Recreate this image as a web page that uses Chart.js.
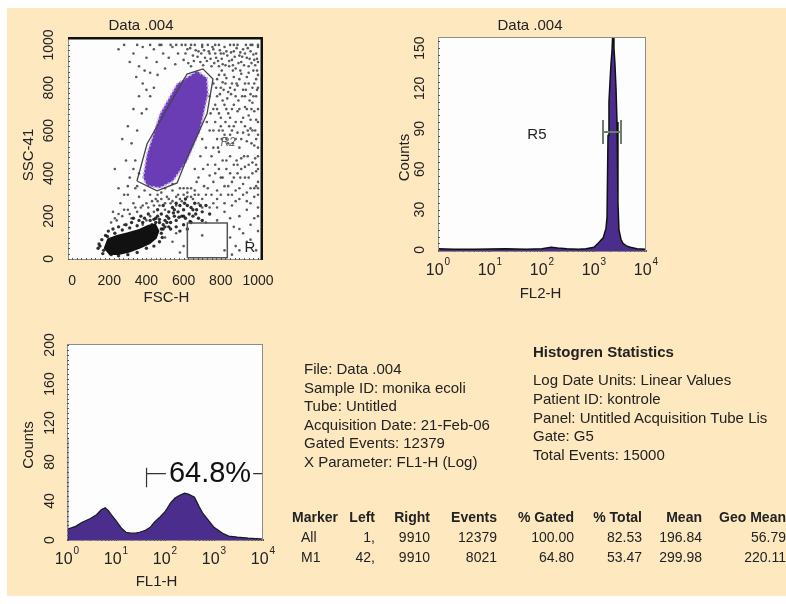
<!DOCTYPE html>
<html>
<head>
<meta charset="utf-8">
<script src="https://cdn.jsdelivr.net/npm/chart.js@4.4.1/dist/chart.umd.min.js"></script>
<style>
html,body{margin:0;padding:0;width:786px;height:604px;overflow:hidden;background:#fff;
  font-family:"Liberation Sans",Arial,sans-serif;color:#222;}
#bg{position:absolute;left:7px;top:8px;width:779px;height:588px;background:#fde8c0;}
canvas{position:absolute;left:0;top:0;}
.t{position:absolute;white-space:nowrap;font-size:15px;}
.c{position:absolute;white-space:nowrap;font-size:14px;line-height:20px;}
</style>
</head>
<body>
<div id="bg"></div>
<canvas id="scatter" width="786" height="604"></canvas>
<canvas id="fl2" width="786" height="604"></canvas>
<canvas id="fl1" width="786" height="604"></canvas>
<div id="info1" class="t" style="left:304px;top:360px;line-height:18.5px;"></div>
<div id="info2title" class="t" style="left:533px;top:342px;line-height:19px;font-weight:bold;"></div>
<div id="info2" class="t" style="left:533px;top:371px;line-height:18.8px;"></div>
<div id="table"></div>
<script>
// ---------------- data ----------------
const scatterTicks = [0, 200, 400, 600, 800, 1000];
const fl2CountTicks = [0, 30, 60, 90, 120, 150];
const fl1CountTicks = [0, 40, 80, 120, 160, 200];
const logDecades = [1, 10, 100, 1000, 10000];
const logExponents = ['0', '1', '2', '3', '4'];

// FL1-H histogram (channel, counts)
const fl1Channel = [1,1.5,2,3,4,5,6,7,8,10,13,16,20,25,30,40,50,60,80,100,130,160,200,250,300,400,500,600,800,1000,1500,2000,3000,5000,10000];
const fl1Counts  = [11,14,18,22,26,31,33,30,26,20,12,8,7,7,8,10,13,18,24,29,38,43,46,48,47,44,34,27,19,13,7,4,3,2,1];
const fl1Spike = [[1,0],[1,105]];
const m1Marker = [[42,74],[42,54],[42,68],[9910,68]];
const m1Label = '64.8%';

// FL2-H histogram
const fl2Channel = [1,2,5,10,20,50,100,150,200,300,500,700,1000,1200,1500,1700,1780,1860,1940,2030,2120,2220,2320,2420,2530,2650,2770,2890,3020,3300,3600,4200,5000,6700,10000];
const fl2Counts  = [1,0.5,0.5,0.8,1,0.6,1,2,1.5,1,0.6,1,2,5,9,16,24,85,110,125,138,148,165,150,138,120,95,35,15,8,5,3,2,1,0.5];
const r5Marker = [[1490,96.5],[1490,78.7],[1490,87.6],[3306,87.6],[3306,96.5],[3306,78.7]];

// FSC-H / SSC-41 dot plot
const gateR2 = [[349,364],[403,537],[618,864],[704,888],[758,841],[726,678],[618,472],[565,355],[457,318],[349,364]];
const gateR  = [[620,5],[620,168],[835,168],[835,5],[620,5]];
const purpleCore = [[382,379],[403,491],[473,678],[565,818],[672,879],[726,846],[731,771],[688,598],[618,458],[543,364],[473,332],[403,341]];
const debrisBlob = [[170,50],[190,95],[240,112],[300,125],[360,140],[410,160],[450,165],[470,130],[455,95],[420,70],[370,50],[310,30],[250,18],[200,18]];
const eventsDense = [[430,160],[450,190],[470,170],[480,210],[500,180],[510,200],[520,220],[530,170],[540,240],[550,200],[560,180],[570,220],[580,250],[590,200],[600,230],[610,190],[620,250],[630,210],[640,240],[650,200],[660,260],[670,230],[680,190],[690,250],[700,220],[460,230],[490,250],[520,190],[545,215],[575,195],[605,260],[635,175],[665,210],[700,180],[720,250],[740,210],[480,140],[520,150],[560,150],[600,160],[640,170],[580,130],[620,140],
[150,60],[160,90],[170,40],[180,110],[195,130],[220,140],[250,150],[290,160],[320,170],[360,180],[390,190],[420,180],[450,170],[480,120],[470,80],[440,60],[400,50],[350,30],[300,20],[250,15],[210,20],[165,25],[490,160],[460,200],[410,210],[370,200],[330,190],
[140,50],[145,70],[190,105],[230,120],[270,135],[310,145],[350,155],[380,170],[485,100],[490,140],[500,150],[470,185],[440,185],[510,170],[530,140],[550,230],[600,200],[650,230],[560,260],[610,280]];
const eventsSparse = [[330,960],[360,900],[380,990],[400,940],[420,870],[440,980],[455,920],[470,1000],[490,960],[500,890],[520,940],[540,990],[555,910],[570,960],[590,1000],[600,930],[620,980],[640,900],[650,950],[660,1000],[680,970],[690,920],[700,990],[715,940],[730,1000],[740,960],[750,900],[760,980],[775,940],[790,1000],[800,960],[810,910],[820,990],[835,950],[850,1000],[860,930],[870,970],[880,890],[890,1000],[900,950],[910,920],[920,980],[935,1000],[940,940],[950,900],[960,970],[970,1000],[980,930],[990,960],[1000,990],
[280,1000],[250,980],[310,920],[345,850],[390,880],[460,860],[530,1000],[610,1000],[770,1000],[870,1000],[960,1000],[1000,1000],[700,1000],[640,1000],[560,1000],[480,1000],[420,1000],[350,1000],
[780,840],[800,800],[820,860],[840,780],[860,820],[880,760],[900,840],[920,790],[940,850],[960,770],[980,820],[1000,860],
[770,720],[790,680],[810,740],[830,700],[850,660],[870,720],[890,690],[910,640],[930,710],[950,670],[970,730],[990,650],[1000,700],
[760,600],[780,560],[800,620],[820,580],[840,540],[860,600],[880,560],[900,520],[920,590],[940,550],[960,610],[980,530],[1000,580],
[750,480],[770,440],[790,500],[810,460],[830,420],[850,480],[870,440],[890,400],[910,470],[930,430],[950,380],[970,450],[990,410],[1000,480],
[760,360],[780,320],[800,380],[820,340],[840,300],[860,360],[880,320],[900,280],[920,350],[940,310],[960,260],[980,330],[1000,300],
[780,240],[820,220],[860,250],[900,200],[940,230],[980,190],[1000,240],[870,150],[920,120],[960,160],[1000,130],[880,60],[940,80],[990,40],[850,190],
[1000,920],[1000,800],[1000,640],[1000,520],[1000,420],[1000,360],[1000,200],[995,880],[990,760],[985,600],[990,340],[975,880],[950,820],[930,760],[905,880],[885,820],[865,880],[845,900],[825,820],[805,880],[790,900],[965,700],[945,600],[925,480],[905,380],[885,460],[865,540],[845,620],[825,640],[805,560],[785,520],[945,480],[965,540],[985,470],
[700,560],[720,520],[740,600],[690,480],[660,420],[730,440],[760,520],[680,380],[640,330],[710,340],[740,390],[770,640],[760,700],[780,760],[740,760],[720,800],[760,820],[700,740],[745,680],[725,640],[705,420],[670,360],
[300,620],[330,700],[360,760],[380,820],[270,560],[320,540],[350,600],[400,700],[420,760],[290,460],[340,460],[310,380],[360,400],[250,330],[280,300],[230,420],[440,800],[400,790],[375,680],[330,420],[300,340],[350,340],
[240,180],[270,200],[300,230],[330,260],[360,290],[390,320],[420,300],[450,280],[480,310],[510,290],[540,320],[570,300],[600,330],[280,160],[320,190],[350,220],[380,250],[410,240],[440,220],[470,250],[500,230],[530,260],[560,250],[590,270],[620,290],[650,280],[680,300],[260,260],[300,300],[340,330],[220,220],
[500,100],[540,80],[560,120],[600,60],[580,30],[700,110],[850,100],[900,40],[960,90],[860,20],[780,180],[720,170],[900,140],[820,40],
[610,960],[625,915],[635,985],[655,925],[665,975],[675,945],[695,960],[705,905],[710,975],[725,925],[735,970],[745,935],[755,990],[765,915],[770,960],[785,925],[795,975],[805,935],[815,960],[825,905],[830,970],[845,925],[855,965],[865,905],[875,945],[885,985],[895,915],[905,965],[915,945],[925,905],[930,960],[945,985],[955,935],[965,915],[975,955],[985,905],[995,935],
[790,860],[810,825],[830,845],[850,800],[870,850],[890,810],[910,865],[930,820],[950,870],[970,800],[990,840],[775,800],[795,770],[815,790],[835,750],[855,770],[875,790],[895,740],[915,760],[935,790],[955,740],[975,760],[995,790],
[780,700],[800,660],[820,720],[840,680],[860,700],[880,640],[900,700],[920,660],[940,700],[960,650],[980,690],[790,600],[810,600],[830,560],[850,580],[870,620],[890,590],[910,560],[930,620],[950,580],[970,600],[990,560],
[770,400],[790,420],[810,380],[830,460],[850,400],[870,380],[890,440],[910,420],[930,380],[950,440],[970,400],[990,440],[780,280],[800,300],[820,260],[840,340],[860,300],[880,270],[900,330],[920,300],[940,270],[960,330],[980,290],[1000,330],
[380,160],[400,180],[420,200],[440,250],[460,270],[480,280],[500,260],[520,280],[540,270],[560,290],[580,280],[600,300],[620,310],[640,290],[660,300],[700,280],[720,300],[680,260],[700,240],[740,240],[760,260],[750,300],[730,330],[660,320],[620,330],[580,330],[540,350],[500,330],[460,300],[430,270],[400,260],[370,240],[340,240],[310,210],[280,230],[250,210],[230,190],[210,170]];

// text blocks
const infoLines = ['File: Data .004','Sample ID: monika ecoli','Tube: Untitled','Acquisition Date: 21-Feb-06','Gated Events: 12379','X Parameter: FL1-H (Log)'];
const statsTitle = 'Histogren Statistics';
const statsLines = ['Log Date Units: Linear Values','Patient ID: kontrole','Panel: Untitled Acquisition Tube Lis','Gate: G5','Total Events: 15000'];
const tableHeader = ['Marker','Left','Right','Events','% Gated','% Total','Mean','Geo Mean'];
const tableRowAll = ['All','1,','9910','12379','100.00','82.53','196.84','56.79'];
const tableRowM1  = ['M1','42,','9910','8021','64.80','53.47','299.98','220.11'];

// ---------------- helpers ----------------
const W = 786, H = 604;
const F = '"Liberation Sans", Arial, sans-serif';
const pts = arr => arr.map(([x, y]) => ({x, y}));
const zip = (xs, ys) => xs.map((x, i) => ({x, y: ys[i]}));
const steps = (a, b, s) => { const r = []; for (let v = a; v <= b + 1e-9; v += s) r.push(v); return r; };
const logMinor = () => { const r = []; for (let d = 1; d < 10000; d *= 10) for (let k = 1; k < 10; k++) r.push(d * k); r.push(10000); return r; };

const deco = {
  id: 'deco',
  beforeDraw(chart, _a, o) {
    const {ctx, chartArea: a} = chart;
    ctx.save(); ctx.fillStyle = o.plotBg;
    ctx.fillRect(a.left, a.top, a.right - a.left, a.bottom - a.top); ctx.restore();
  },
  afterDatasetDraw(chart, args, o) {
    const ds = chart.data.datasets[args.index];
    if (!ds.fillsAfter || !o.fills) return;
    const {ctx, chartArea: a, scales: {x, y}} = chart;
    ctx.save();
    ctx.beginPath(); ctx.rect(a.left, a.top, a.right - a.left, a.bottom - a.top); ctx.clip();
    o.fills.forEach(p => {
      ctx.beginPath();
      p.pts.forEach(([vx, vy], i) => {
        const px = x.getPixelForValue(vx), py = y.getPixelForValue(vy);
        i ? ctx.lineTo(px, py) : ctx.moveTo(px, py);
      });
      ctx.closePath();
      ctx.fillStyle = p.fill; ctx.fill();
      if (p.stroke) { ctx.strokeStyle = p.stroke; ctx.lineWidth = p.lw || 1; ctx.setLineDash(p.dash || []); ctx.stroke(); ctx.setLineDash([]); }
    });
    ctx.restore();
  },
  afterDraw(chart, _a, o) {
    const {ctx, chartArea: a, scales: {x, y}} = chart;
    ctx.save();
    ctx.strokeStyle = o.border; ctx.lineWidth = 1;
    ctx.strokeRect(a.left + 0.5, a.top + 0.5, a.right - a.left - 1, a.bottom - a.top - 1);
    (o.heavy || []).forEach(e => {
      ctx.strokeStyle = '#111'; ctx.lineWidth = e.w; ctx.beginPath();
      if (e.side === 'top') { ctx.moveTo(a.left, a.top + e.w / 2); ctx.lineTo(a.right, a.top + e.w / 2); }
      if (e.side === 'right') { ctx.moveTo(a.right - e.w / 2, a.top); ctx.lineTo(a.right - e.w / 2, a.bottom); }
      ctx.stroke();
    });
    ctx.strokeStyle = o.tickColor; ctx.lineWidth = 1; ctx.beginPath();
    o.xMinor.forEach(v => { const px = Math.round(x.getPixelForValue(v)) + 0.5; ctx.moveTo(px, a.bottom); ctx.lineTo(px, a.bottom - o.tickLen); });
    o.yMinor.forEach(v => { const py = Math.round(y.getPixelForValue(v)) + 0.5; ctx.moveTo(a.left, py); ctx.lineTo(a.left + o.tickLen, py); });
    ctx.stroke();

    ctx.fillStyle = '#222'; ctx.textBaseline = 'middle';
    o.xTicks.forEach((v, i) => {
      const px = x.getPixelForValue(v);
      if (o.xLog) {
        ctx.font = '16px ' + F; const w1 = ctx.measureText('10').width;
        ctx.font = '10px ' + F; const w2 = ctx.measureText(o.xLabels[i]).width;
        const sx = px - (w1 + w2 + 1) / 2;
        ctx.textAlign = 'left';
        ctx.font = '16px ' + F; ctx.fillText('10', sx, o.xLabelY);
        ctx.font = '10px ' + F; ctx.fillText(o.xLabels[i], sx + w1 + 1, o.xLabelY - 9);
      } else {
        ctx.font = '14px ' + F; ctx.textAlign = 'center';
        ctx.fillText(o.xLabels[i], px, o.xLabelY);
      }
    });
    ctx.font = '14px ' + F; ctx.textAlign = 'center';
    o.yTicks.forEach(v => {
      const py = y.getPixelForValue(v);
      ctx.save(); ctx.translate(o.yLabelX, py); ctx.rotate(-Math.PI / 2);
      ctx.fillText(String(v), 0, 0); ctx.restore();
    });
    ctx.font = '15px ' + F;
    o.texts.forEach(t => {
      ctx.save(); ctx.translate(t.x, t.y); if (t.rot) ctx.rotate(-Math.PI / 2);
      ctx.fillText(t.t, 0, 0); ctx.restore();
    });
    (o.notes || []).forEach(n => {
      const px = x.getPixelForValue(n.x), py = y.getPixelForValue(n.y);
      ctx.font = n.font + ' ' + F;
      if (n.bg) {
        const w = ctx.measureText(n.t).width;
        ctx.fillStyle = n.bg; ctx.fillRect(px - w / 2 - 3, py - n.bh / 2, w + 5, n.bh);
      }
      ctx.fillStyle = n.color || '#222';
      ctx.fillText(n.t, px, py);
    });
    ctx.restore();
  }
};
Chart.register(deco);

function opts(area, xs, ys, d) {
  return {
    responsive: false, animation: false, events: [],
    layout: {padding: {left: area[0], top: area[1], right: W - area[2], bottom: H - area[3]}},
    scales: {x: Object.assign({display: false}, xs), y: Object.assign({display: false}, ys)},
    plugins: {legend: {display: false}, tooltip: {enabled: false}, deco: d},
    elements: {line: {tension: 0}}
  };
}

// ---------------- dot plot ----------------
new Chart(document.getElementById('scatter'), {
  type: 'scatter',
  data: {datasets: [
    {data: pts(gateR2), showLine: true, borderColor: '#444', borderWidth: 1.3, pointRadius: 0, order: 1},
    {data: pts(gateR), showLine: true, borderColor: '#555', borderWidth: 1.5, pointRadius: 0, order: 1},
    {data: pts(eventsDense), pointRadius: 1.7, pointBorderWidth: 0, backgroundColor: 'rgba(10,10,10,0.85)', order: 3, fillsAfter: true},
    {data: pts(eventsSparse), pointRadius: 1.3, pointBorderWidth: 0, backgroundColor: 'rgba(20,20,20,0.7)', order: 3}
  ]},
  options: opts([68, 37, 263, 260],
    {type: 'linear', min: -22, max: 1027},
    {type: 'linear', min: -5, max: 1037},
    {plotBg: '#fdfdfd', border: '#8c8c8c', tickColor: '#555', tickLen: 2,
     heavy: [{side: 'top', w: 2.5}, {side: 'right', w: 2.5}],
     xMinor: steps(0, 1000, 25), yMinor: steps(0, 1000, 25),
     xTicks: scatterTicks, xLabels: scatterTicks.map(String), xLabelY: 281,
     yTicks: scatterTicks, yLabelX: 49.5,
     texts: [{t: 'Data .004', x: 141, y: 26}, {t: 'FSC-H', x: 166.5, y: 298}, {t: 'SSC-41', x: 28.5, y: 155, rot: true}],
     notes: [{t: 'R2', x: 839, y: 542, font: 'italic 12px', color: '#666'}, {t: 'R', x: 957, y: 51, font: '15px'}],
     fills: [{pts: purpleCore, fill: '#6a3db5', stroke: 'rgba(200,165,240,0.95)', lw: 2, dash: [2, 2]},
             {pts: debrisBlob, fill: '#111'}]})
});

// ---------------- FL2-H histogram ----------------
new Chart(document.getElementById('fl2'), {
  type: 'line',
  data: {datasets: [
    {data: pts(r5Marker), borderColor: '#6f7d6f', borderWidth: 2, pointRadius: 0, fill: false},
    {data: zip(fl2Channel, fl2Counts), borderColor: '#111', borderWidth: 1.5, pointRadius: 0,
     backgroundColor: '#4b2d8e', fill: 'start'}
  ]},
  options: opts([438, 37, 646, 252],
    {type: 'logarithmic', min: 1, max: 10000},
    {type: 'linear', min: -1.5, max: 158.2},
    {plotBg: '#fdfdfd', border: '#8c8c8c', tickColor: '#555', tickLen: 2,
     xLog: true, xMinor: logMinor(), yMinor: steps(0, 155, 5),
     xTicks: logDecades, xLabels: logExponents, xLabelY: 271,
     yTicks: fl2CountTicks, yLabelX: 420,
     texts: [{t: 'Data .004', x: 530, y: 26}, {t: 'FL2-H', x: 540.5, y: 293.5}, {t: 'Counts', x: 405, y: 157.5, rot: true}],
     notes: [{t: 'R5', x: 80, y: 85.4, font: '15px'}]})
});

// ---------------- FL1-H histogram ----------------
new Chart(document.getElementById('fl1'), {
  type: 'line',
  data: {datasets: [
    {data: pts(m1Marker), borderColor: '#333', borderWidth: 1.2, pointRadius: 0, fill: false},
    {data: pts(fl1Spike), borderColor: '#111', borderWidth: 2.5, pointRadius: 0, fill: false},
    {data: zip(fl1Channel, fl1Counts), borderColor: '#1a1a1a', borderWidth: 1.2, pointRadius: 0,
     backgroundColor: '#4b2d8e', fill: 'start'}
  ]},
  options: opts([67, 344, 263, 541],
    {type: 'logarithmic', min: 1, max: 10000},
    {type: 'linear', min: -1, max: 201},
    {plotBg: '#fdfdfd', border: '#8c8c8c', tickColor: '#555', tickLen: 2,
     xLog: true, xMinor: logMinor(), yMinor: steps(0, 200, 5),
     xTicks: logDecades, xLabels: logExponents, xLabelY: 560,
     yTicks: fl1CountTicks, yLabelX: 50,
     texts: [{t: 'FL1-H', x: 156.5, y: 581.5}, {t: 'Counts', x: 29, y: 445, rot: true}],
     notes: [{t: m1Label, x: 829, y: 68, font: '29px', color: '#111', bg: '#fdfdfd', bh: 24}]})
});

// ---------------- text blocks ----------------
document.getElementById('info1').innerHTML = infoLines.join('<br>');
document.getElementById('info2title').textContent = statsTitle;
document.getElementById('info2').innerHTML = statsLines.join('<br>');

const colRight = [null, 375, 430, 497, 574, 642, 702, 786];
const rowsY = [506.5, 527, 546.5];
const tbl = document.getElementById('table');
[tableHeader, tableRowAll, tableRowM1].forEach((row, r) => {
  row.forEach((txt, c) => {
    const d = document.createElement('div');
    d.className = 'c';
    d.textContent = txt;
    d.style.top = rowsY[r] + 'px';
    if (r === 0) d.style.fontWeight = 'bold';
    if (c === 0) d.style.left = (r === 0 ? 292 : 301) + 'px';
    else d.style.right = (W - colRight[c]) + 'px';
    tbl.appendChild(d);
  });
});
</script>
</body>
</html>
